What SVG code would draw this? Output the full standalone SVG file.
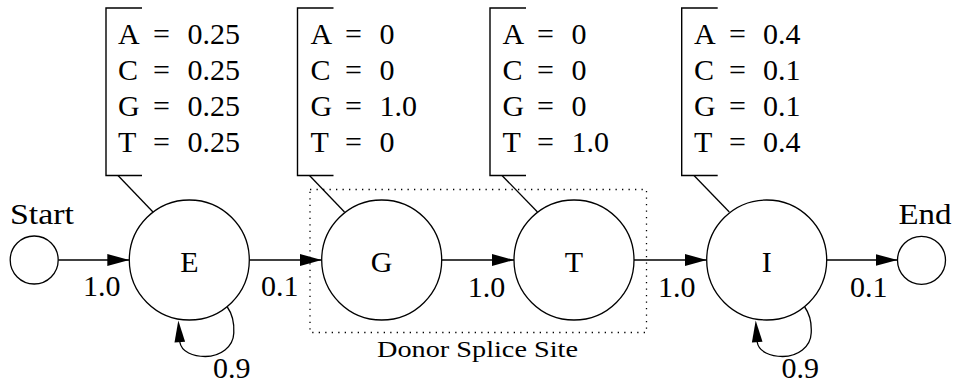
<svg xmlns="http://www.w3.org/2000/svg" width="956" height="384" viewBox="0 0 956 384" font-family="'Liberation Serif', serif">
  <style>
    text { font-family: 'Liberation Serif', serif; font-size: 30px; fill: #000; }
    .node { fill: #fff; stroke: #000; stroke-width: 1.3; }
    .edge { fill: none; stroke: #000; stroke-width: 1.3; }
    .bracket { fill: none; stroke: #000; stroke-width: 1.4; }
    .lbl { text-anchor: middle; }
    .site { fill: none; stroke: #000; stroke-width: 1.3; stroke-dasharray: 1.3 5.2; }
    .small { font-size: 24px; }
  </style>
  <defs>
    <marker id="arrow" markerUnits="userSpaceOnUse" markerWidth="24" markerHeight="14" refX="22" refY="7" orient="auto">
      <path d="M0,1 L22,7 L0,13 Z" fill="#000"/>
    </marker>
    <!-- self-loop below a state, drawn around the state's centre -->
    <g id="selfloop">
      <path class="edge" d="M38,47 C43,54 45,64 44.5,73 C44,87 31,96.5 16,96.5 C4,96.5 -8,92 -9.5,82"/>
      <path d="M-11,60.5 L-4.2,81.7 L-14.8,82.6 Z" fill="#000"/>
    </g>
  </defs>

  <rect width="956" height="384" fill="#fff"/>

  <!-- donor splice site region -->
  <g id="donor-site">
    <rect class="site" x="310" y="189.5" width="336.5" height="143"/>
    <text class="small" x="377" y="357" textLength="201" lengthAdjust="spacingAndGlyphs">Donor Splice Site</text>
  </g>

  <!-- transitions -->
  <g id="connectors">
    <path class="edge" d="M58.3,260 H129.3" marker-end="url(#arrow)"/>
    <path class="edge" d="M249.3,260 H321.7" marker-end="url(#arrow)"/>
    <path class="edge" d="M441.7,260 H514" marker-end="url(#arrow)"/>
    <path class="edge" d="M634,260 H706.7" marker-end="url(#arrow)"/>
    <path class="edge" d="M826.7,260 H897.5" marker-end="url(#arrow)"/>
    <use href="#selfloop" transform="translate(189.3,260)"/>
    <use href="#selfloop" transform="translate(766.7,260)"/>
    <text x="83" y="296">1.0</text>
    <text x="261" y="296">0.1</text>
    <text x="467.7" y="296.5">1.0</text>
    <text x="658" y="296.5">1.0</text>
    <text x="850" y="296.5">0.1</text>
    <text x="213" y="377.5">0.9</text>
    <text x="781.5" y="377.5">0.9</text>
  </g>

  <!-- start state -->
  <g id="start">
    <circle class="node" cx="34.2" cy="260" r="24"/>
    <text x="10" y="223.5" textLength="64" lengthAdjust="spacingAndGlyphs">Start</text>
  </g>

  <!-- exon state -->
  <g id="state-E">
    <path class="bracket" d="M142,8 H106 V175.5 H142"/>
    <path class="edge" d="M118,175.5 L153,212"/>
    <text y="44"><tspan x="118">A</tspan><tspan x="153">=</tspan><tspan x="187.5">0.25</tspan></text>
    <text y="80"><tspan x="118">C</tspan><tspan x="153">=</tspan><tspan x="187.5">0.25</tspan></text>
    <text y="116"><tspan x="118">G</tspan><tspan x="153">=</tspan><tspan x="187.5">0.25</tspan></text>
    <text y="152"><tspan x="118">T</tspan><tspan x="153">=</tspan><tspan x="187.5">0.25</tspan></text>
    <circle class="node" cx="189.3" cy="260" r="60"/>
    <text class="lbl" x="189.3" y="272">E</text>
  </g>

  <!-- splice site state G -->
  <g id="state-G">
    <path class="bracket" d="M333.5,8 H297.5 V175.5 H333.5"/>
    <path class="edge" d="M309.5,175.5 L344.5,212"/>
    <text y="44"><tspan x="310.5">A</tspan><tspan x="345">=</tspan><tspan x="379.5">0</tspan></text>
    <text y="80"><tspan x="310.5">C</tspan><tspan x="345">=</tspan><tspan x="379.5">0</tspan></text>
    <text y="116"><tspan x="310.5">G</tspan><tspan x="345">=</tspan><tspan x="379.5">1.0</tspan></text>
    <text y="152"><tspan x="310.5">T</tspan><tspan x="345">=</tspan><tspan x="379.5">0</tspan></text>
    <circle class="node" cx="381.7" cy="260" r="60"/>
    <text class="lbl" x="381.7" y="272">G</text>
  </g>

  <!-- splice site state T -->
  <g id="state-T">
    <path class="bracket" d="M526,8 H490 V175.5 H526"/>
    <path class="edge" d="M502,175.5 L537.5,212"/>
    <text y="44"><tspan x="502.5">A</tspan><tspan x="537">=</tspan><tspan x="571.5">0</tspan></text>
    <text y="80"><tspan x="502.5">C</tspan><tspan x="537">=</tspan><tspan x="571.5">0</tspan></text>
    <text y="116"><tspan x="502.5">G</tspan><tspan x="537">=</tspan><tspan x="571.5">0</tspan></text>
    <text y="152"><tspan x="502.5">T</tspan><tspan x="537">=</tspan><tspan x="571.5">1.0</tspan></text>
    <circle class="node" cx="574" cy="260" r="60"/>
    <text class="lbl" x="574" y="272">T</text>
  </g>

  <!-- intron state -->
  <g id="state-I">
    <path class="bracket" d="M717.7,8 H681.7 V175.5 H717.7"/>
    <path class="edge" d="M694,175.5 L729.3,212"/>
    <text y="44"><tspan x="694">A</tspan><tspan x="729">=</tspan><tspan x="763">0.4</tspan></text>
    <text y="80"><tspan x="694">C</tspan><tspan x="729">=</tspan><tspan x="763">0.1</tspan></text>
    <text y="116"><tspan x="694">G</tspan><tspan x="729">=</tspan><tspan x="763">0.1</tspan></text>
    <text y="152"><tspan x="694">T</tspan><tspan x="729">=</tspan><tspan x="763">0.4</tspan></text>
    <circle class="node" cx="766.7" cy="260" r="60"/>
    <text class="lbl" x="766.7" y="272">I</text>
  </g>

  <!-- end state -->
  <g id="end">
    <circle class="node" cx="921.5" cy="260.3" r="24"/>
    <text x="898.5" y="223.5" textLength="53" lengthAdjust="spacingAndGlyphs">End</text>
  </g>
</svg>
